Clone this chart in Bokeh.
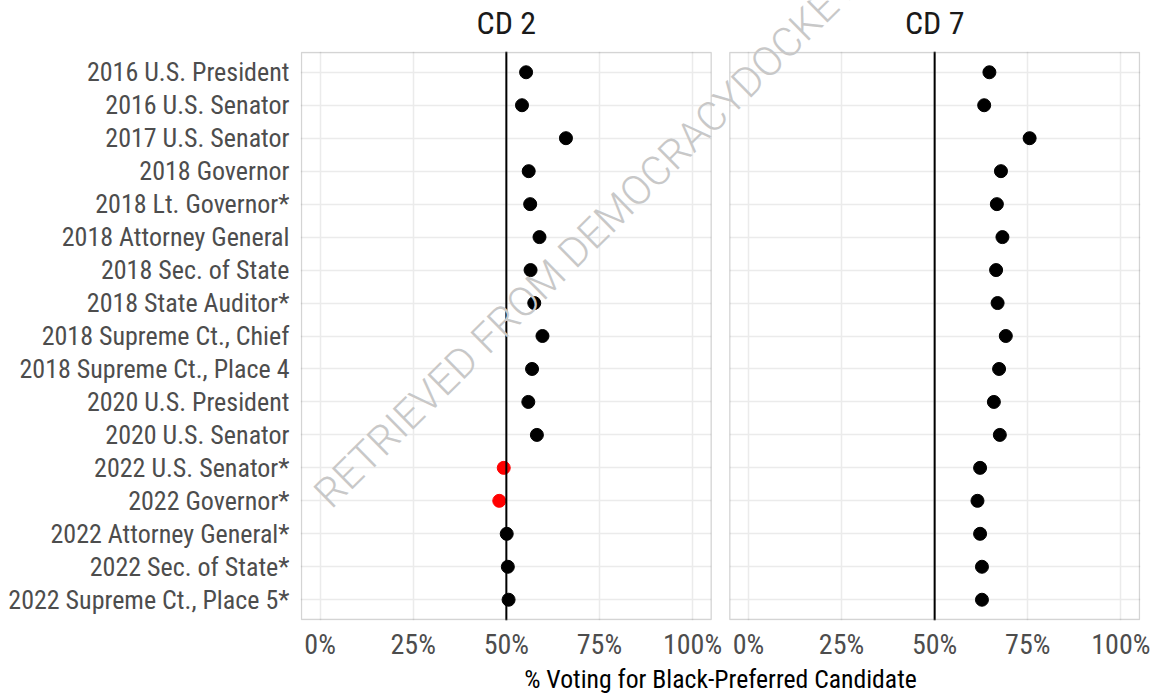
from bokeh.plotting import figure
from bokeh.layouts import column
from bokeh.models import (FactorRange, Range1d, FixedTicker, Grid, Span, LinearAxis,
                          BoxAnnotation, Label, ColumnDataSource)
from bokeh.embed import file_html
from bokeh.resources import INLINE

# ---------------- data ----------------
races = ["2016 U.S. President", "2016 U.S. Senator", "2017 U.S. Senator",
         "2018 Governor", "2018 Lt. Governor*", "2018 Attorney General",
         "2018 Sec. of State", "2018 State Auditor*", "2018 Supreme Ct., Chief",
         "2018 Supreme Ct., Place 4", "2020 U.S. President", "2020 U.S. Senator",
         "2022 U.S. Senator*", "2022 Governor*", "2022 Attorney General*",
         "2022 Sec. of State*", "2022 Supreme Ct., Place 5*"]
cd2 = [55.3, 54.2, 66.0, 56.0, 56.4, 58.9, 56.5, 57.5, 59.7, 56.9,
       55.9, 58.2, 49.3, 48.1, 50.1, 50.4, 50.6]
cd7 = [64.7, 63.3, 75.5, 67.8, 66.7, 68.2, 66.5, 66.9, 69.1, 67.3,
       65.9, 67.5, 62.2, 61.5, 62.2, 62.7, 62.7]
panels = ["CD 2", "CD 7"]
ticks = [0, 25, 50, 75, 100]
tick_labels = ["0%", "25%", "50%", "75%", "100%"]
threshold = 50
x_title = "% Voting for Black-Preferred Candidate"
watermark = "RETRIEVED FROM DEMOCRACYDOCKET"

# ---------------- layout constants ----------------
FONT = "Roboto Condensed"
PANEL_LO, PANEL_HI = -5, 105        # ggplot-like 5% expansion
GAP = 5                             # gap between panels (data units)
OFFSET = PANEL_HI - PANEL_LO + GAP  # right panel shift on main range
XPAD = 0.27                         # ~1px of frame beyond the panel borders
YPAD = 0.13
W, H = 1156, 696
BL, BR, BT, BB = 300, 16, 50, 74    # borders around the plotting frame

red, black = "#FF0000", "#000000"
src = ColumnDataSource(dict(
    race=races, cd2=cd2, cd7=cd7,
    c2=[red if v < threshold else black for v in cd2],
    c7=[red if v < threshold else black for v in cd7],
))

p = figure(width=W, height=H, output_backend="svg", toolbar_location=None,
           x_range=Range1d(PANEL_LO - XPAD, PANEL_HI + OFFSET + XPAD),
           y_range=FactorRange(factors=list(reversed(races)), range_padding=YPAD,
                               range_padding_units="absolute"),
           min_border_left=BL, min_border_right=BR, min_border_top=BT,
           min_border_bottom=BB)
p.extra_x_ranges = {"cd7": Range1d(PANEL_LO - XPAD - OFFSET, PANEL_HI + XPAD)}
p.outline_line_color = None
p.background_fill_color = "white"
p.border_fill_color = "white"

GRID_C, GRID_W = "#EBEBEB", 1.5
p.xgrid.ticker = FixedTicker(ticks=ticks)
p.xgrid.grid_line_color = GRID_C
p.xgrid.grid_line_width = GRID_W
p.ygrid.grid_line_color = GRID_C
p.ygrid.grid_line_width = GRID_W
p.add_layout(Grid(dimension=0, ticker=FixedTicker(ticks=ticks), x_range_name="cd7",
                  grid_line_color=GRID_C, grid_line_width=GRID_W))

# white gap between the two panels
p.add_layout(BoxAnnotation(left=PANEL_HI, right=PANEL_HI + GAP, fill_color="white",
                           fill_alpha=1, line_color=None))

# points
p.scatter(x="cd2", y="race", source=src, size=13, color="c2")
p.scatter(x="cd7", y="race", source=src, size=13, color="c7", x_range_name="cd7")

# 50% reference lines
p.add_layout(Span(location=threshold, dimension="height", line_color="black", line_width=2))
p.add_layout(Span(location=threshold, dimension="height", line_color="black", line_width=2,
                  x_range_name="cd7"))

# panel borders
ny = len(races)
for rn in ["default", "cd7"]:
    p.add_layout(BoxAnnotation(left=PANEL_LO, right=PANEL_HI, bottom=-0.1, top=ny + 0.1,
                               fill_color=None, fill_alpha=0,
                               line_color="#707070", line_width=1.3, x_range_name=rn))

# bottom axis (both panels) with shared title
bottom = p.below[0]
bottom.ticker = FixedTicker(ticks=ticks + [t + OFFSET for t in ticks])
overrides = {}
for t, lab in zip(ticks, tick_labels):
    overrides[t] = lab
    overrides[t + OFFSET] = lab
bottom.major_label_overrides = overrides
bottom.major_label_text_font_size = "28px"
bottom.major_label_text_color = "#4d4d4d"
bottom.major_label_standoff = 7
bottom.axis_label = x_title
bottom.axis_label_text_font = FONT
bottom.axis_label_text_font_size = "25.7px"
bottom.axis_label_text_font_style = "normal"
bottom.axis_label_text_color = "black"
bottom.axis_label_standoff = 0

left = p.left[0]
left.major_label_text_font_size = "26px"
left.major_label_text_color = "#4d4d4d"
left.major_label_standoff = 11

# top axis carrying the panel titles
top = LinearAxis(ticker=FixedTicker(ticks=[threshold, threshold + OFFSET]),
                 major_label_overrides={threshold: panels[0], threshold + OFFSET: panels[1]})
p.add_layout(top, "above")
top.major_label_text_font_size = "32px"
top.major_label_text_color = "#1a1a1a"
top.major_label_standoff = 10

for ax in (bottom, left, top):
    ax.axis_line_color = None
    ax.major_tick_line_color = None
    ax.minor_tick_line_color = None
    ax.major_tick_out = 0
    ax.major_label_text_font = FONT

# transparent overlay (same frame columns as the chart) carrying the document watermark
ov = figure(width=W, height=H, output_backend="svg", toolbar_location=None,
            x_range=Range1d(BL, W - BR), y_range=Range1d(H, 0),
            x_axis_location=None, y_axis_location=None,
            min_border_left=BL, min_border_right=BR, min_border_top=0, min_border_bottom=0,
            margin=(-H, 0, 0, 0))
ov.outline_line_color = None
ov.background_fill_color = None
ov.border_fill_color = None
ov.xgrid.visible = False
ov.ygrid.visible = False
ov.add_layout(Label(x=585, y=240, text=watermark, angle=44.5, angle_units="deg",
                    text_align="center", text_baseline="middle",
                    text_font="Roboto Light, Roboto", text_font_size="41px",
                    text_color="#c8c8c8"))

open("out.html", "w").write(file_html(column(p, ov), INLINE))
